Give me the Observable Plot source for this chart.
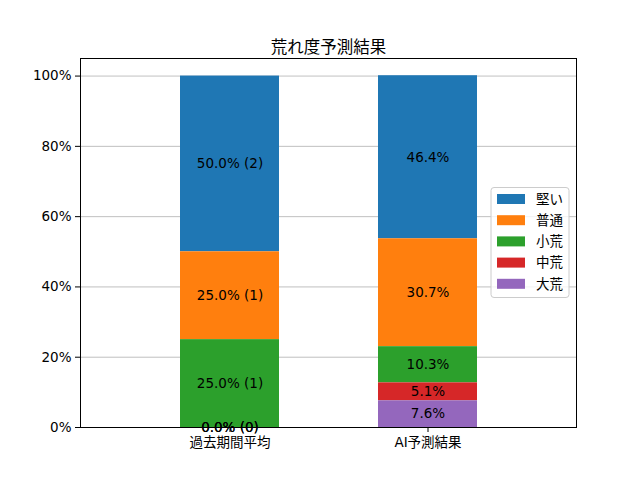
<!DOCTYPE html>
<html>
<head>
<meta charset="utf-8">
<script src="https://cdn.jsdelivr.net/npm/d3@7"></script>
<script src="https://cdn.jsdelivr.net/npm/@observablehq/plot@0.6"></script>
<style>
  html, body { margin: 0; padding: 0; background: #fff; }
  #chart svg { display: block; }
</style>
</head>
<body>
<div id="chart"></div>
<script>
// ---- data ----
const categories = ["過去期間平均", "AI予測結果"];
const seriesNames = ["堅い", "普通", "小荒", "中荒", "大荒"];        // legend order
const stackOrder = ["大荒", "中荒", "小荒", "普通", "堅い"];         // bottom -> top
const pastValues = [50.0, 25.0, 25.0, 0.0, 0.0];
const pastCounts = [2, 1, 1, 0, 0];
const aiValues = [46.4, 30.7, 10.3, 5.1, 7.6];
const seriesColors = ["#1f77b4", "#ff7f0e", "#2ca02c", "#d62728", "#9467bd"];
const yTicks = [0, 20, 40, 60, 80, 100];
const title = "荒れ度予測結果";

const rows = [];
seriesNames.forEach((s, i) => {
  rows.push({cat: categories[0], series: s, value: pastValues[i],
             label: pastValues[i].toFixed(1) + "% (" + pastCounts[i] + ")"});
  rows.push({cat: categories[1], series: s, value: aiValues[i],
             label: aiValues[i].toFixed(1) + "%"});
});

const W = 640, H = 480;
const mL = 80, mR = 64, mT = 58, mB = 53;
const font = "'DejaVu Sans', 'Noto Sans CJK JP', sans-serif";
const fs = 13.5;

const chart = Plot.plot({
  width: W, height: H,
  marginLeft: mL, marginRight: mR, marginTop: mT, marginBottom: mB,
  style: {fontFamily: font, fontSize: fs + "px", color: "#000", background: "#fff"},
  x: {domain: categories, paddingInner: 0.5, paddingOuter: 0.5, label: null},
  y: {domain: [0, 105], ticks: yTicks, tickFormat: d => d + "%", label: null},
  color: {domain: seriesNames, range: seriesColors},
  marks: [
    Plot.gridY(yTicks, {stroke: "#b0b0b0", strokeOpacity: 1, strokeWidth: 0.8}),
    Plot.barY(rows, Plot.stackY({x: "cat", y: "value", fill: "series", order: stackOrder})),
    Plot.text(rows, Plot.stackY({x: "cat", y: "value", z: "series", order: stackOrder, text: "label",
      fill: "#000", fontSize: fs})),
    Plot.axisX({tickSize: 5, tickPadding: 5, fontSize: fs}),
    Plot.axisY({ticks: yTicks, tickFormat: d => d + "%", tickSize: 5, tickPadding: 4, fontSize: fs}),
    Plot.frame({stroke: "#000", strokeWidth: 1}),
    Plot.text([title], {frameAnchor: "top", dy: -17, fontSize: 16.5, fill: "#000"})
  ]
});

document.getElementById("chart").appendChild(chart);

// ---- legend (matplotlib-style, loc="center right") ----
const colorScale = chart.scale("color");
const svg = d3.select(chart);
const plotRight = W - mR, plotMidY = (mT + (H - mB)) / 2;
const rowH = 21.2, boxW = 78, boxH = seriesNames.length * rowH + 4;
const bx = plotRight - 7 - boxW, by = plotMidY - boxH / 2;
const g = svg.append("g").attr("font-family", font).attr("font-size", fs)
  .attr("text-anchor", "start");
g.append("rect").attr("x", bx).attr("y", by).attr("width", boxW).attr("height", boxH)
  .attr("rx", 3).attr("fill", "#fff").attr("fill-opacity", 0.8)
  .attr("stroke", "#cccccc").attr("stroke-width", 1);
seriesNames.forEach((s, i) => {
  const cy = by + 11.5 + i * rowH;
  g.append("rect").attr("x", bx + 6).attr("y", cy - 5).attr("width", 28).attr("height", 10)
    .attr("fill", colorScale.apply(s));
  g.append("text").attr("x", bx + 45).attr("y", cy).attr("dy", "0.35em")
    .attr("text-anchor", "start").attr("fill", "#000").text(s);
});
</script>
</body>
</html>
